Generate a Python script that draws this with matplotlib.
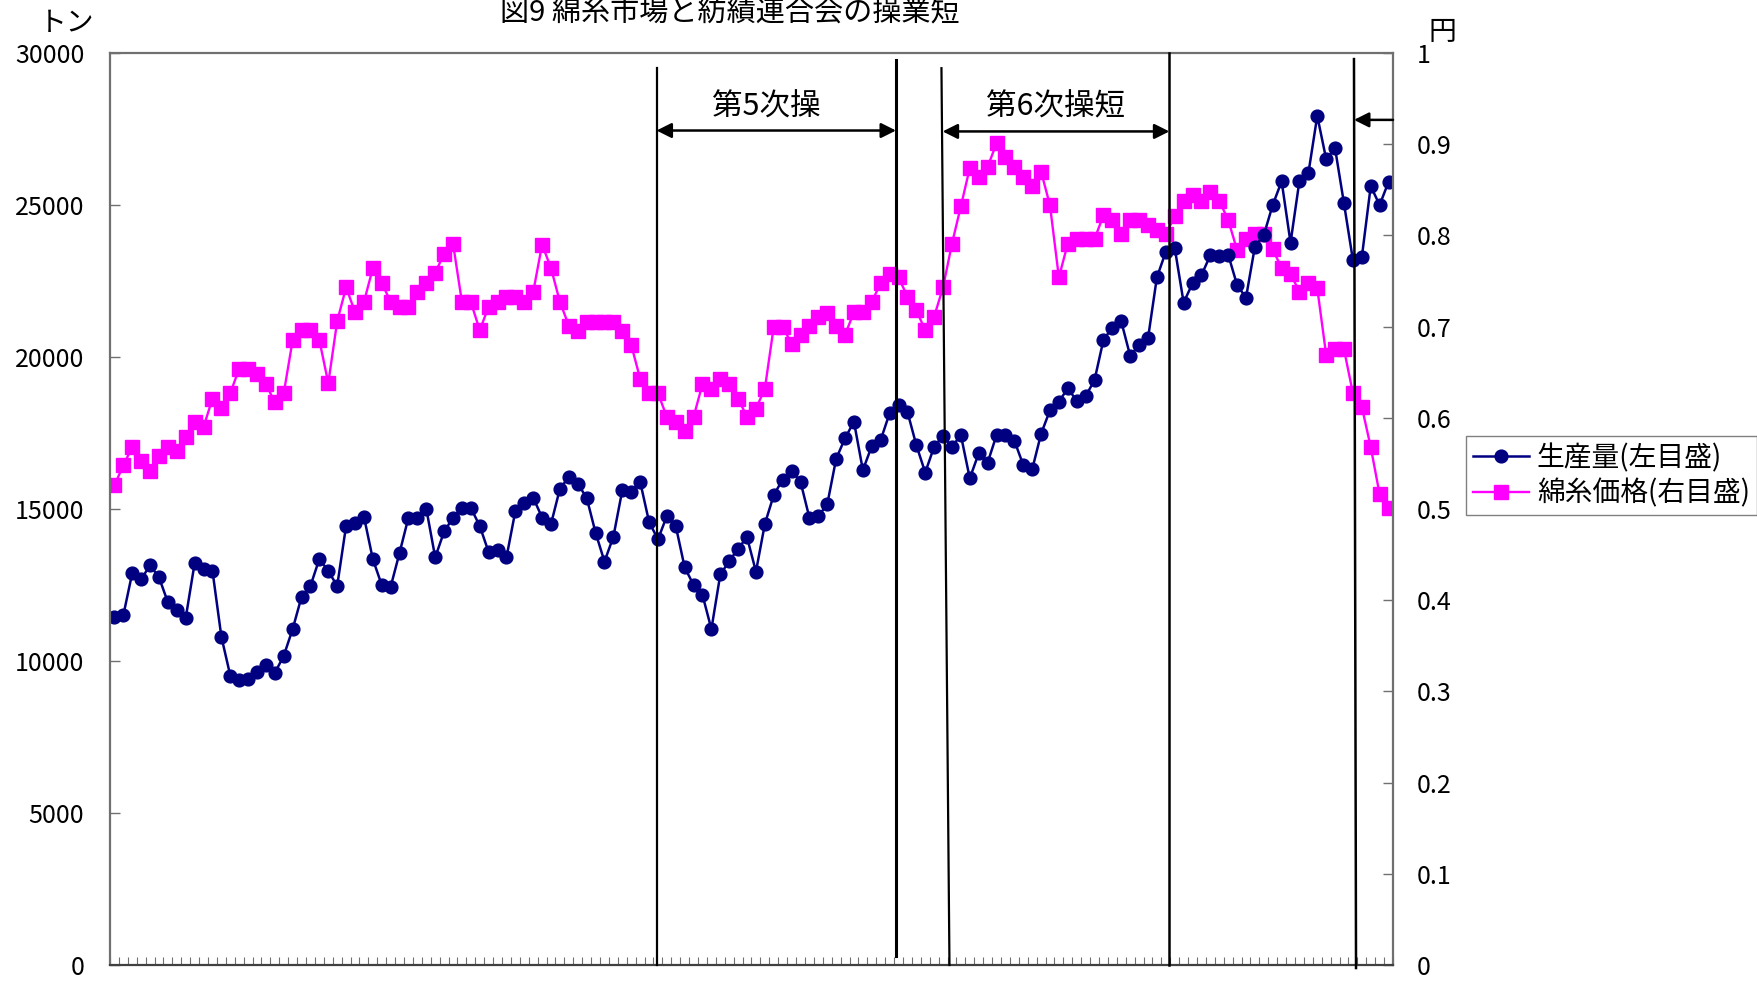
import numpy as np
import matplotlib
matplotlib.use("Agg")
import matplotlib.pyplot as plt

plt.rcParams['font.family'] = ['Noto Sans CJK JP', 'DejaVu Sans']

# 月次データ(144か月)
production = [
    11450, 11510, 12900, 12690, 13150, 12750, 11930, 11680, 11420, 13220,
    13040, 12970, 10800, 9520, 9370, 9420, 9640, 9870, 9610, 10170,
    11050, 12110, 12470, 13360, 12960, 12470, 14450, 14530, 14750, 13350,
    12500, 12440, 13560, 14720, 14720, 15010, 13410, 14260, 14710, 15040,
    15040, 14440, 13580, 13650, 13410, 14940, 15210, 15370, 14720, 14510,
    15670, 16050, 15830, 15370, 14220, 13270, 14090, 15620, 15570, 15900,
    14580, 14000, 14770, 14440, 13080, 12500, 12170, 11050, 12850, 13280,
    13700, 14070, 12940, 14510, 15460, 15970, 16260, 15900, 14710, 14770,
    15150, 16650, 17330, 17870, 16280, 17070, 17270, 18150, 18420, 18200,
    17100, 16200, 17050, 17410, 17050, 17430, 16010, 16830, 16520, 17430,
    17430, 17250, 16450, 16300, 17470, 18250, 18530, 18970, 18560, 18710,
    19240, 20560, 20970, 21170, 20040, 20390, 20610, 22620, 23460, 23590,
    21790, 22420, 22690, 23350, 23320, 23370, 22370, 21950, 23630, 24010,
    25000, 25780, 23760, 25800, 26040, 27930, 26510, 26860, 25050, 23190,
    23280, 25620, 25000, 25760,
]

price = [
    0.526, 0.548, 0.568, 0.553, 0.542, 0.558, 0.568, 0.564, 0.579, 0.595,
    0.590, 0.621, 0.611, 0.627, 0.654, 0.654, 0.648, 0.637, 0.617, 0.627,
    0.685, 0.696, 0.696, 0.685, 0.638, 0.706, 0.743, 0.716, 0.727, 0.764,
    0.748, 0.727, 0.722, 0.722, 0.738, 0.748, 0.759, 0.780, 0.791, 0.727,
    0.727, 0.696, 0.722, 0.727, 0.732, 0.732, 0.727, 0.738, 0.790, 0.764,
    0.727, 0.701, 0.695, 0.705, 0.705, 0.705, 0.705, 0.695, 0.680, 0.643,
    0.627, 0.627, 0.601, 0.595, 0.585, 0.601, 0.637, 0.632, 0.643, 0.637,
    0.621, 0.601, 0.610, 0.632, 0.700, 0.700, 0.681, 0.691, 0.701, 0.711,
    0.715, 0.701, 0.691, 0.716, 0.716, 0.727, 0.748, 0.758, 0.754, 0.733,
    0.718, 0.696, 0.711, 0.743, 0.791, 0.832, 0.874, 0.864, 0.875, 0.901,
    0.886, 0.875, 0.864, 0.854, 0.870, 0.833, 0.754, 0.791, 0.796, 0.796,
    0.796, 0.822, 0.817, 0.801, 0.817, 0.817, 0.811, 0.806, 0.801, 0.821,
    0.838, 0.844, 0.838, 0.848, 0.838, 0.817, 0.784, 0.796, 0.801, 0.801,
    0.785, 0.764, 0.758, 0.738, 0.748, 0.742, 0.669, 0.675, 0.675, 0.627,
    0.612, 0.568, 0.516, 0.501,
]

series_labels = ['生産量(左目盛)', '綿糸価格(右目盛)']
title_text = '図9 綿糸市場と紡績連合会の操業短'
left_unit = 'トン'
right_unit = '円'
left_ticks = [0, 5000, 10000, 15000, 20000, 25000, 30000]
right_ticks = [0, 0.1, 0.2, 0.3, 0.4, 0.5, 0.6, 0.7, 0.8, 0.9, 1.0]
right_tick_labels = ['0', '0.1', '0.2', '0.3', '0.4', '0.5', '0.6', '0.7', '0.8', '0.9', '1']

# 操短期間の区切り線 (横位置は月の番号, 縦位置は左目盛)
period_lines = [
    ((60.84, 29500), (60.84, 0), 1.6),
    ((87.72, 29770), (87.72, 300), 2.2),
    ((92.82, 29500), (93.72, 0), 1.6),
    ((118.4, 30000), (118.4, 0), 1.8),
    ((139.12, 29800), (139.35, -100), 1.8),
]
period_labels = [('第5次操', 73.2, 60.84, 87.72, 27450),
                 ('第6次操短', 105.6, 92.95, 118.4, 27420)]

W, H = 1757, 982
fig = plt.figure(figsize=(W / 100, H / 100), dpi=100)
L, R, T, B = 110, 1393, 53, 965
ax = fig.add_axes([L / W, 1 - B / H, (R - L) / W, (B - T) / H])
ax2 = ax.twinx()

navy = '#000080'
magenta = '#FF00FF'
x = np.arange(len(production))

h2, = ax2.plot(x, price, color=magenta, marker='s', ms=9.5, lw=1.7,
               mfc=magenta, mec=magenta, label=series_labels[1])
h1, = ax.plot(x, production, color=navy, marker='o', ms=9.2, lw=1.8,
              mfc=navy, mec=navy, label=series_labels[0])

ax.set_zorder(ax2.get_zorder() + 1)
ax.patch.set_visible(False)

ax.set_xlim(-0.5, len(x) - 0.5)
ax.set_ylim(0, 30000)
ax2.set_ylim(0, 1)

spine_col = '#707070'
for s in ax2.spines.values():
    s.set_visible(False)
for name, s in ax.spines.items():
    s.set_color(spine_col)
    s.set_linewidth(1.6)
ax.spines['bottom'].set_color('#404040')

ax.set_yticks(left_ticks)
ax.set_yticklabels([str(v) for v in left_ticks])
ax.tick_params(axis='y', direction='in', length=7, width=1, color=spine_col,
               labelsize=18, pad=18.5)
ax2.set_yticks(right_ticks)
ax2.set_yticklabels(right_tick_labels)
ax2.tick_params(axis='y', direction='in', length=7, width=1, color=spine_col,
                labelsize=18, pad=17)

ax.set_xticks(np.arange(-0.5, len(x), 1))
ax.set_xticklabels([])
ax.tick_params(axis='x', direction='in', length=6, width=0.8, color=spine_col)

for (x0, y0), (x1, y1), lw in period_lines:
    ax.plot([x0, x1], [y0, y1], color='black', lw=lw, clip_on=False, zorder=5)

for text, tx, xa, xb, ya in period_labels:
    ax.annotate('', xy=(xb, ya), xytext=(xa, ya),
                arrowprops=dict(arrowstyle='<|-|>,head_length=0.6,head_width=0.3',
                                color='black', lw=1.8, shrinkA=0, shrinkB=0,
                                mutation_scale=15), zorder=6)
    ax.text(tx, 28230, text, fontsize=22, ha='center', va='center')

# 右端の期間開始を示す矢印
ax.annotate('', xy=(139.12, 27800), xytext=(len(x) - 0.5, 27800),
            arrowprops=dict(arrowstyle='-|>,head_length=0.6,head_width=0.3',
                            color='black', lw=1.8, shrinkA=0, shrinkB=0,
                            mutation_scale=15), zorder=6, annotation_clip=False)

fig.text(730 / W, 1 - 12 / H, title_text, fontsize=21, ha='center', va='center')
fig.text(67 / W, 1 - 23 / H, left_unit, fontsize=20, ha='center', va='center')
fig.text(1442 / W, 1 - 32 / H, right_unit, fontsize=20, ha='center', va='center')

leg = fig.legend(handles=[h1, h2], labels=series_labels, loc='upper left',
                 bbox_to_anchor=(1466 / W, 1 - 436 / H), borderaxespad=0,
                 fancybox=False, framealpha=1, edgecolor='#808080',
                 fontsize=20, handlelength=2.0, handletextpad=0.3,
                 borderpad=0.25, labelspacing=0.2)
leg.get_frame().set_linewidth(1.0)

fig.savefig('out.png', dpi=100)
